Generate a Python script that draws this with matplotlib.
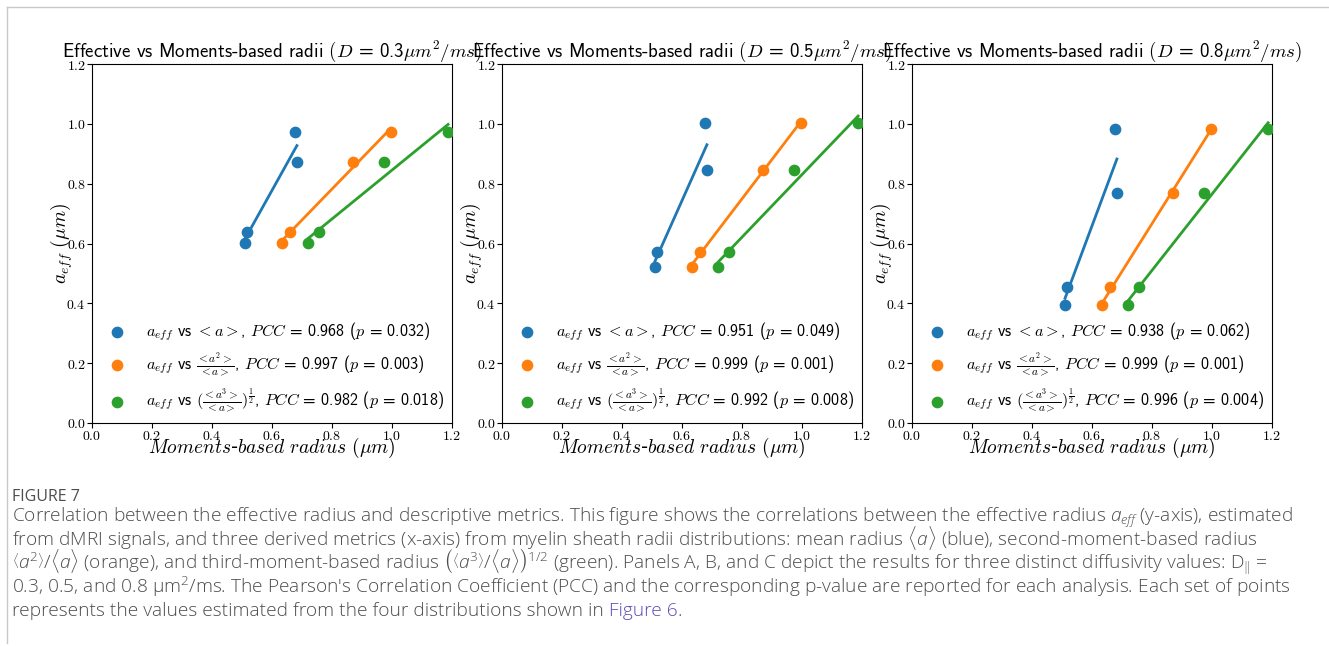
import numpy as np
import matplotlib
matplotlib.use("Agg")
import matplotlib.pyplot as plt
from matplotlib.lines import Line2D
from matplotlib.ticker import FuncFormatter

plt.rcParams["mathtext.fontset"] = "cm"
plt.rcParams["mathtext.rm"] = "Open Sans:light"
plt.rcParams["mathtext.it"] = "Open Sans:italic:light"

# x values: moment-based radii of the four distributions (same for every panel)
mean_radius = [0.510, 0.516, 0.683, 0.677]
second_moment = [0.633, 0.660, 0.869, 0.996]
third_moment = [0.721, 0.755, 0.974, 1.187]

# effective radius per diffusivity
diffusivities = ["0.3", "0.5", "0.8"]
a_eff_03 = [0.601, 0.639, 0.873, 0.972]
a_eff_05 = [0.521, 0.572, 0.846, 1.003]
a_eff_08 = [0.393, 0.453, 0.768, 0.984]

pcc_03 = [("0.968", "0.032"), ("0.997", "0.003"), ("0.982", "0.018")]
pcc_05 = [("0.951", "0.049"), ("0.999", "0.001"), ("0.992", "0.008")]
pcc_08 = [("0.938", "0.062"), ("0.999", "0.001"), ("0.996", "0.004")]

metric_labels = [r"$<a>$", r"$\frac{<a^2>}{<a>}$",
                 r"$(\frac{<a^3>}{<a>})^{\frac{1}{2}}$"]
colors = ["#1f77b4", "#ff7f0e", "#2ca02c"]
ticks = [0.0, 0.2, 0.4, 0.6, 0.8, 1.0, 1.2]

panels = [(a_eff_03, pcc_03), (a_eff_05, pcc_05), (a_eff_08, pcc_08)]
lefts = [92, 502, 912]
sans = ["cmss10", "DejaVu Sans"]

fig = plt.figure(figsize=(13.29, 6.46), dpi=100)
W, H = 1329.0, 646.0
cm_fmt = FuncFormatter(lambda v, pos: "$%.1f$" % v)

for i, (a_eff, stats) in enumerate(panels):
    ax = fig.add_axes([lefts[i] / W, (H - 423) / H, 360 / W, 359 / H])
    for xs, col, lab, (r, p) in zip([mean_radius, second_moment, third_moment],
                                   colors, metric_labels, stats):
        ax.scatter(xs, a_eff, s=55, color=col, zorder=3,
                   label=r"$a_{eff}$ vs " + lab + r", $PCC$ = " + r + r" ($p$ = " + p + ")")
        k, b = np.polyfit(xs, a_eff, 1)
        xl = np.array([min(xs), max(xs)])
        ax.plot(xl, k * xl + b, color=col, lw=2)
    ax.set_xlim(0, 1.2)
    ax.set_ylim(0, 1.2)
    ax.set_xticks(ticks)
    ax.set_yticks(ticks)
    ax.xaxis.set_major_formatter(cm_fmt)
    ax.yaxis.set_major_formatter(cm_fmt)
    ax.tick_params(labelsize=10, length=3.5, pad=1)
    ax.set_title(r"Effective vs Moments-based radii $(D$ = " + diffusivities[i]
                 + r"$\mu m^2/ms)$", fontsize=13.6, pad=5, family=sans)
    ax.set_xlabel(r"$Moments$-$based\ radius\ (\mu m)$", fontsize=14, labelpad=-5)
    ax.set_ylabel(r"$a_{eff}\ (\mu m)$", fontsize=14, labelpad=-6)
    ax.legend(loc="lower right", frameon=False, prop={"family": sans, "size": 11.6},
              labelspacing=0.5, handletextpad=0.8, borderaxespad=0.1)

# page frame lines
fig.add_artist(Line2D([7 / W, 7 / W], [1 - 7 / H, 1 - 643 / H], color="#c8c8c8", lw=1))
fig.add_artist(Line2D([7 / W, 1.0], [1 - 7 / H, 1 - 7 / H], color="#c8c8c8", lw=1))

cap_color = "#4d4d4d"
cap_size = 13.75
cap_kw = dict(fontsize=cap_size, color=cap_color, family="Open Sans", weight="light",
              va="baseline", math_fontfamily="custom")
fig.text(12 / W, 1 - 501 / H, "FIGURE 7", fontsize=11.5, color=cap_color,
         family="Open Sans", va="baseline")
caption_lines = [
    r"Correlation between the effective radius and descriptive metrics. This figure shows the correlations between the effective radius $a_{eff}$ (y-axis), estimated",
    r"from dMRI signals, and three derived metrics (x-axis) from myelin sheath radii distributions: mean radius $\langle a\rangle$ (blue), second-moment-based radius",
    r"$\left\langle a^2\right\rangle/\langle a\rangle$ (orange), and third-moment-based radius $\left(\left\langle a^3\right\rangle/\langle a\rangle\right)^{1/2}$ (green). Panels A, B, and C depict the results for three distinct diffusivity values: D$_\Vert$ =",
    r"0.3, 0.5, and 0.8 $\mathrm{\mu}$m$^2$/ms. The Pearson's Correlation Coefficient (PCC) and the corresponding p-value are reported for each analysis. Each set of points",
]
baselines = [522, 545, 569, 593]
for line, yb in zip(caption_lines, baselines):
    fig.text(12 / W, 1 - yb / H, line, **cap_kw)
last = fig.text(12 / W, 1 - 616 / H,
                "represents the values estimated from the four distributions shown in ", **cap_kw)

fig.canvas.draw()
bb = last.get_window_extent()
link = fig.text(bb.x1 / W, 1 - 616 / H, "Figure 6", fontsize=cap_size, color="#5b4db5",
                family="Open Sans", weight="light", va="baseline")
bb2 = link.get_window_extent(fig.canvas.get_renderer())
fig.text(bb2.x1 / W, 1 - 616 / H, ".", **cap_kw)

fig.savefig("out.png", dpi=100)
